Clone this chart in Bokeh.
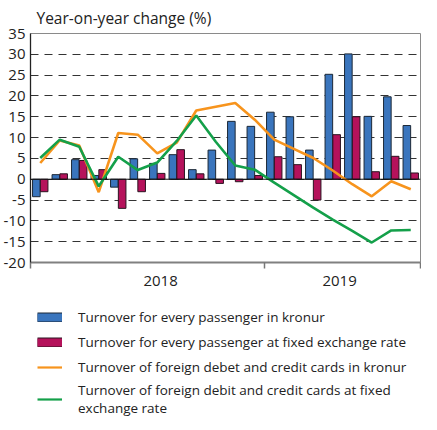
from bokeh.plotting import figure
from bokeh.layouts import column
from bokeh.models import (ColumnDataSource, FixedTicker, Legend, LegendItem,
                          Span, Range1d)
from bokeh.embed import file_html
from bokeh.resources import INLINE

# ---- data ----
months = ["2018-01", "2018-02", "2018-03", "2018-04", "2018-05", "2018-06",
          "2018-07", "2018-08", "2018-09", "2018-10", "2018-11", "2018-12",
          "2019-01", "2019-02", "2019-03", "2019-04", "2019-05", "2019-06",
          "2019-07", "2019-08"]
per_passenger_isk = [-4.2, 1.1, 4.7, 0.9, -1.9, 4.9, 3.8, 5.9, 2.3, 7.0,
                     13.9, 12.7, 16.1, 15.0, 7.0, 25.2, 30.1, 15.1, 19.8, 12.9]
per_passenger_fixed = [-3.0, 1.3, 4.5, 2.3, -7.0, -3.0, 1.4, 7.1, 1.3, -1.0,
                       -0.6, 0.9, 5.4, 3.5, -5.0, 10.7, 15.0, 1.8, 5.5, 1.5]
cards_isk = [3.9, 9.3, 8.1, -3.1, 11.1, 10.7, 6.2, 8.8, 16.5, 17.4,
             18.3, 14.3, 9.5, 7.3, 5.1, 2.1, -1.2, -4.1, -0.5, -2.4]
cards_fixed = [5.1, 9.5, 7.8, -1.7, 5.4, 2.2, 4.0, 9.2, 15.3, 9.0,
               3.3, 2.3, -0.8, -3.8, -6.8, -9.7, -12.4, -15.2, -12.3, -12.2]

year_labels = ["2018", "2019"]
year_label_pos = [6.67, 15.85]
year_bounds = [0, 12, 20]
y_ticks = [-20, -15, -10, -5, 0, 5, 10, 15, 20, 25, 30, 35]

series_names = ["Turnover for every passenger in kronur",
                "Turnover for every passenger at fixed exchange rate",
                "Turnover of foreign debet and credit cards in kronur",
                "Turnover of foreign debit and credit cards at fixed\nexchange rate"]

FONT = "Open Sans"
BLUE = "#3a75bd"
RED = "#b5125b"
ORANGE = "#f7941d"
GREEN = "#14a04a"
BLUE_EDGE = "#1c2836"
RED_EDGE = "#2a1420"

idx = list(range(len(months)))
src = ColumnDataSource(dict(
    xb=[i + 0.5 - 0.2 for i in idx],
    xr=[i + 0.5 + 0.2 for i in idx],
    xc=[i + 0.5 for i in idx],
    blue=per_passenger_isk, red=per_passenger_fixed,
    orange=cards_isk, green=cards_fixed,
))

p = figure(frame_width=390, frame_height=229, x_range=Range1d(0, len(months)),
           y_range=Range1d(-20, 35), output_backend="svg",
           toolbar_location=None, min_border_left=30, min_border_right=1,
           min_border_bottom=0, min_border_top=0)

p.title.text = "Year-on-year change (%)"
p.title.align = "left"
p.title.text_font = FONT
p.title.text_font_size = "15.5px"
p.title.text_font_style = "normal"
p.title.text_color = "#222222"
p.title.offset = 6
p.title.standoff = 9

p.vbar(x="xb", top="blue", bottom=0, width=0.39, source=src,
       fill_color=BLUE, line_color=BLUE_EDGE, line_width=1)
p.vbar(x="xr", top="red", bottom=0, width=0.39, source=src,
       fill_color=RED, line_color=RED_EDGE, line_width=1)
p.line(x="xc", y="orange", source=src, line_color=ORANGE, line_width=2.6)
p.line(x="xc", y="green", source=src, line_color=GREEN, line_width=2.6)

p.add_layout(Span(location=0, dimension="width", line_color="#111111",
                  line_width=1))

# y axis
p.yaxis.ticker = FixedTicker(ticks=y_ticks)
p.yaxis.major_label_overrides = {t: str(t) for t in y_ticks}
p.yaxis.major_tick_line_color = None
p.yaxis.minor_tick_line_color = None
p.yaxis.major_tick_out = 0
p.yaxis.major_label_standoff = 5
p.yaxis.axis_line_color = "#222222"
p.yaxis.axis_line_width = 1.3
p.yaxis.major_label_text_font = FONT
p.yaxis.major_label_text_font_size = "15px"
p.yaxis.major_label_text_color = "#222222"

# x axis
p.xaxis.ticker = FixedTicker(ticks=year_label_pos, minor_ticks=year_bounds)
p.xaxis.major_label_overrides = dict(zip(year_label_pos, year_labels))
p.xaxis.major_tick_line_color = None
p.xaxis.major_tick_out = 0
p.xaxis.major_tick_in = 0
p.xaxis.minor_tick_line_color = "#777777"
p.xaxis.minor_tick_line_width = 1.5
p.xaxis.minor_tick_out = 6
p.xaxis.minor_tick_in = 0
p.xaxis.major_label_standoff = 7
p.xaxis.axis_line_color = "#808080"
p.xaxis.axis_line_width = 2
p.xaxis.major_label_text_font = FONT
p.xaxis.major_label_text_font_size = "15px"
p.xaxis.major_label_text_color = "#222222"

p.xgrid.visible = False
p.ygrid.grid_line_color = "#333333"
p.ygrid.grid_line_dash = "8 6"
p.ygrid.grid_line_width = 1

p.outline_line_color = "#8a8a8a"
p.outline_line_width = 1

# ---- legend panel (separate figure below the chart) ----
q = figure(width=421, height=132, x_range=Range1d(0, 1), y_range=Range1d(0, 1),
           output_backend="svg", toolbar_location=None,
           x_axis_type=None, y_axis_type=None,
           min_border_left=29, min_border_top=11, min_border_right=0,
           min_border_bottom=0)
q.grid.visible = False
q.outline_line_color = None
# legend swatches: glyphs placed outside the visible range
swatch = ColumnDataSource(dict(x=[-5.0, -6.0], y=[-5.0, -6.0]))
k_blue_edge = q.line(x="x", y="y", source=swatch, line_color=BLUE_EDGE,
                     line_width=10, line_cap="butt")
k_blue = q.line(x="x", y="y", source=swatch, line_color=BLUE,
                line_width=8, line_cap="butt")
k_red_edge = q.line(x="x", y="y", source=swatch, line_color=RED_EDGE,
                    line_width=10, line_cap="butt")
k_red = q.line(x="x", y="y", source=swatch, line_color=RED,
               line_width=8, line_cap="butt")
k_orange = q.line(x="x", y="y", source=swatch, line_color=ORANGE, line_width=2.2)
k_green = q.line(x="x", y="y", source=swatch, line_color=GREEN, line_width=2.2)

legend = Legend(items=[
    LegendItem(label=series_names[0], renderers=[k_blue_edge, k_blue]),
    LegendItem(label=series_names[1], renderers=[k_red_edge, k_red]),
    LegendItem(label=series_names[2], renderers=[k_orange]),
    LegendItem(label=series_names[3], renderers=[k_green]),
], location="top_left", orientation="vertical")
legend.glyph_width = 25
legend.glyph_height = 10
legend.label_standoff = 16
legend.label_height = 21
legend.spacing = 4
legend.padding = 0
legend.margin = 7
legend.border_line_color = None
legend.background_fill_alpha = 0
legend.label_text_font = FONT
legend.label_text_font_size = "13.5px"
legend.label_text_color = "#222222"
q.add_layout(legend)

open("out.html", "w").write(file_html(column(p, q, spacing=0), INLINE))
